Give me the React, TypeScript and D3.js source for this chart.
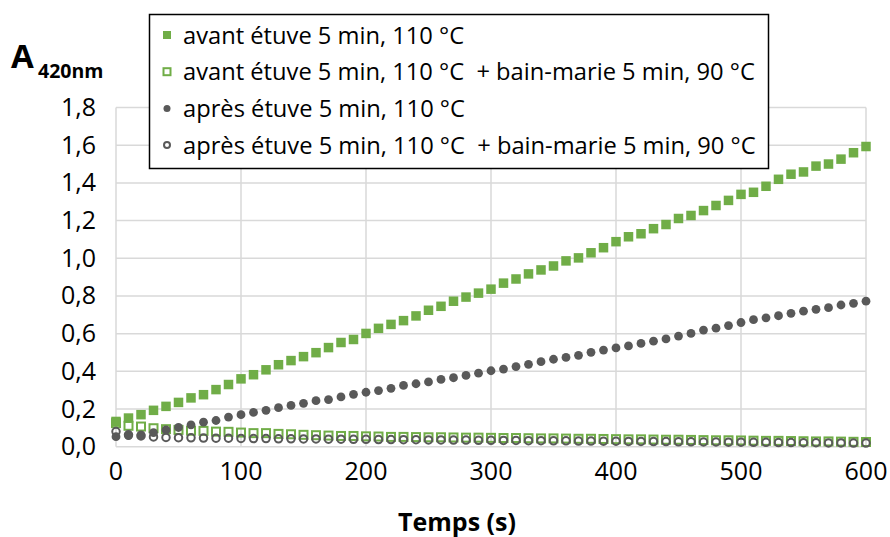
import React from "react";
import * as d3 from "d3";

const times: number[] = d3.range(0, 601, 10);

const avantEtuve: number[] = [
  0.134, 0.152, 0.170, 0.193, 0.214, 0.235, 0.259, 0.276, 0.303, 0.330,
  0.360, 0.382, 0.408, 0.435, 0.457, 0.478, 0.499, 0.526, 0.553, 0.569,
  0.601, 0.628, 0.649, 0.669, 0.694, 0.724, 0.745, 0.772, 0.794, 0.815,
  0.836, 0.868, 0.890, 0.917, 0.938, 0.959, 0.986, 1.002, 1.029, 1.056,
  1.088, 1.114, 1.130, 1.157, 1.179, 1.211, 1.227, 1.253, 1.280, 1.307,
  1.339, 1.350, 1.382, 1.419, 1.446, 1.458, 1.489, 1.500, 1.526, 1.560,
  1.593,
];

const avantBain: number[] = [
  0.125, 0.111, 0.107, 0.098, 0.093, 0.089, 0.085, 0.084, 0.080, 0.079,
  0.075, 0.072, 0.072, 0.068, 0.066, 0.063, 0.061, 0.059, 0.057, 0.057,
  0.055, 0.054, 0.052, 0.052, 0.051, 0.050, 0.050, 0.049, 0.048, 0.048,
  0.047, 0.046, 0.046, 0.045, 0.044, 0.044, 0.043, 0.042, 0.042, 0.041,
  0.040, 0.039, 0.039, 0.038, 0.037, 0.037, 0.036, 0.035, 0.034, 0.034,
  0.033, 0.032, 0.031, 0.031, 0.030, 0.029, 0.028, 0.028, 0.027, 0.026,
  0.025,
];

const apresEtuve: number[] = [
  0.053, 0.059, 0.063, 0.075, 0.089, 0.102, 0.116, 0.130, 0.139, 0.157,
  0.170, 0.182, 0.193, 0.207, 0.219, 0.230, 0.244, 0.250, 0.264, 0.278,
  0.289, 0.298, 0.310, 0.325, 0.334, 0.344, 0.357, 0.366, 0.378, 0.390,
  0.403, 0.412, 0.425, 0.437, 0.451, 0.464, 0.474, 0.485, 0.501, 0.513,
  0.524, 0.535, 0.548, 0.560, 0.572, 0.587, 0.601, 0.619, 0.629, 0.643,
  0.659, 0.674, 0.684, 0.695, 0.708, 0.719, 0.729, 0.738, 0.752, 0.761,
  0.772,
];

const apresBain: number[] = [
  0.080, 0.063, 0.057, 0.052, 0.049, 0.048, 0.047, 0.046, 0.045, 0.045,
  0.044, 0.043, 0.043, 0.042, 0.042, 0.041, 0.041, 0.040, 0.040, 0.039,
  0.039, 0.038, 0.038, 0.037, 0.037, 0.036, 0.036, 0.035, 0.035, 0.034,
  0.034, 0.033, 0.033, 0.032, 0.032, 0.031, 0.031, 0.030, 0.030, 0.029,
  0.029, 0.028, 0.028, 0.027, 0.027, 0.026, 0.026, 0.025, 0.025, 0.024,
  0.024, 0.023, 0.023, 0.022, 0.022, 0.021, 0.021, 0.020, 0.020, 0.019,
  0.019,
];

const legendLabels: string[] = [
  "avant étuve 5 min, 110 °C",
  "avant étuve 5 min, 110 °C  + bain-marie 5 min, 90 °C",
  "après étuve 5 min, 110 °C",
  "après étuve 5 min, 110 °C  + bain-marie 5 min, 90 °C",
];

const xTicks: number[] = [0, 100, 200, 300, 400, 500, 600];
const yTicks: number[] = [0, 0.2, 0.4, 0.6, 0.8, 1.0, 1.2, 1.4, 1.6, 1.8];

const GREEN = "#70AD47";
const GREY = "#595959";
const FONT = "'Open Sans', 'Noto Sans', sans-serif";

type MarkerKind = "sq" | "osq" | "dot" | "odot";

function Marker({ kind, x, y, s }: { kind: MarkerKind; x: number; y: number; s: number }) {
  if (kind === "sq")
    return <rect x={x - s / 2} y={y - s / 2} width={s} height={s} fill={GREEN} />;
  if (kind === "osq")
    return (
      <rect x={x - s / 2 + 1} y={y - s / 2 + 1} width={s - 2} height={s - 2} fill="none" stroke={GREEN} strokeWidth={2} />
    );
  if (kind === "dot") return <circle cx={x} cy={y} r={s / 2} fill={GREY} />;
  return <circle cx={x} cy={y} r={s / 2 - 1} fill="none" stroke={GREY} strokeWidth={2} />;
}

export default function App() {
  const x = d3.scaleLinear().domain([0, 600]).range([116, 866]);
  const y = d3.scaleLinear().domain([0, 1.8]).range([446.7, 107.5]);
  const fmt = (v: number) => d3.format(".1f")(v).replace(".", ",");

  const series: { data: number[]; kind: MarkerKind; size: number }[] = [
    { data: avantEtuve, kind: "sq", size: 9.5 },
    { data: avantBain, kind: "osq", size: 10 },
    { data: apresEtuve, kind: "dot", size: 8.8 },
    { data: apresBain, kind: "odot", size: 9.5 },
  ];
  const legendKinds: { kind: MarkerKind; size: number }[] = [
    { kind: "sq", size: 8 },
    { kind: "osq", size: 9 },
    { kind: "dot", size: 7 },
    { kind: "odot", size: 8 },
  ];

  return (
    <svg
      width={890}
      height={537}
      style={{ position: "absolute", left: 0, top: 0, background: "#fff" }}
      fontFamily={FONT}
    >
      <rect width={890} height={537} fill="#fff" />
      {/* grid */}
      {yTicks.map((t) => (
        <line key={"gy" + t} x1={x(0)} x2={x(600)} y1={y(t)} y2={y(t)} stroke="#d9d9d9" strokeWidth={1.5} />
      ))}
      {xTicks.map((t) => (
        <line key={"gx" + t} x1={x(t)} x2={x(t)} y1={y(0)} y2={y(1.8)} stroke="#d9d9d9" strokeWidth={1.5} />
      ))}
      {/* y tick labels */}
      {yTicks.map((t) => (
        <text key={"ly" + t} x={96} y={y(t) + 8.5} textAnchor="end" fontSize={25} fill="#000">
          {fmt(t)}
        </text>
      ))}
      {/* x tick labels */}
      {xTicks.map((t) => (
        <text key={"lx" + t} x={x(t)} y={480} textAnchor="middle" fontSize={25} fill="#000">
          {t}
        </text>
      ))}
      {/* axis titles */}
      <text x={457} y={531} textAnchor="middle" fontSize={25} fontWeight="bold" fill="#000">
        Temps (s)
      </text>
      <text x={11} y={68} fontSize={33} fontWeight="bold" fill="#000">
        A
      </text>
      <text x={38} y={78} fontSize={19.5} fontWeight="bold" fill="#000">
        420nm
      </text>
      {/* data */}
      {series.map((s, i) => (
        <g key={"s" + i}>
          {s.data.map((v, j) => (
            <Marker key={j} kind={s.kind} x={x(times[j])} y={y(v)} s={s.size} />
          ))}
        </g>
      ))}
      {/* legend */}
      <rect x={149.5} y={14.5} width={619} height={154} fill="#fff" stroke="#000" strokeWidth={1.5} />
      {legendLabels.map((lab, i) => {
        const cy = 35 + i * 36.7;
        return (
          <g key={"lg" + i}>
            <Marker kind={legendKinds[i].kind} x={167} y={cy} s={legendKinds[i].size} />
            <text x={183} y={cy + 8.5} fontSize={23.7} fill="#000" style={{ whiteSpace: "pre" }}>
              {lab}
            </text>
          </g>
        );
      })}
    </svg>
  );
}
